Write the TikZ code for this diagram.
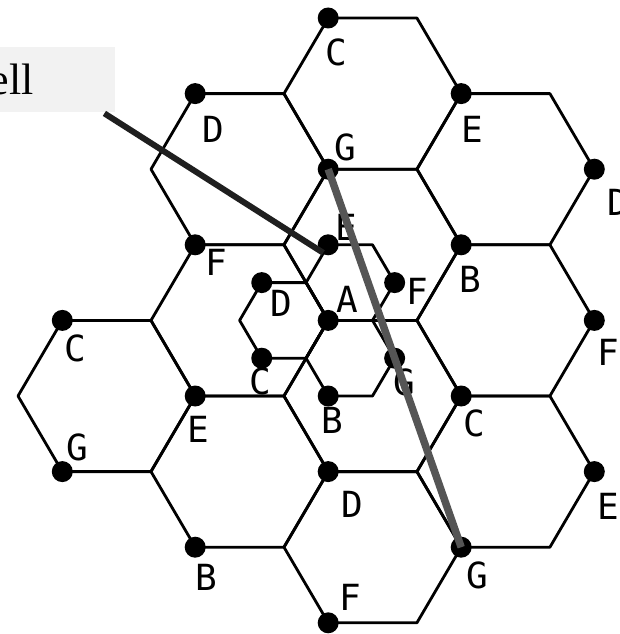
\documentclass[tikz,border=0pt]{standalone}
\usepackage{fontspec}
\setmainfont{Liberation Serif}
\newfontfamily\cellfont{DejaVu Sans Mono}
\usepackage{tikz}
\usetikzlibrary{positioning}
\definecolor{boxgray}{HTML}{F2F2F2}
\definecolor{pathgray}{HTML}{555555}

\begin{document}
\begin{tikzpicture}
		[x=1pt, y=-1pt, line width=2.8pt, line join=round,
		 site/.style={circle, fill, inner sep=0pt, minimum size=21pt},
		 tag/.style={inner sep=0pt, font=\cellfont\fontsize{36}{36}\selectfont}]
		\useasboundingbox (0,0) rectangle (620,634);
		% large cells
		\foreach \cx/\cy in {372.6/93.6, 239.6/169.2, 505.6/169.2, 372.6/244.8, 239.6/320.4, 505.6/320.4,
			106.6/396, 372.6/396, 239.6/471.6, 505.6/471.6, 372.6/547.2}
			\draw[shift={(\cx,\cy)}] (88.6,0) -- (44.3,75.6) -- (-44.3,75.6) -- (-88.6,0) -- (-44.3,-75.6) -- (44.3,-75.6) -- cycle;
		% split cells around A
		\foreach \cx/\cy in {283.9/320.4, 350.35/282.6, 350.35/358.2}
			\draw[shift={(\cx,\cy)}] (44.3,0) -- (22.15,37.8) -- (-22.15,37.8) -- (-44.3,0) -- (-22.15,-37.8) -- (22.15,-37.8) -- cycle;
		\node[site] (cTop) at (328.2,18) {};
		\node[site] (dUp) at (195.2,93.6) {};
		\node[site] (eUp) at (461.2,93.6) {};
		\node[site] (gTop) at (328.2,169.2) {};
		\node[site] (dRight) at (594.3,169.2) {};
		\node[site] (fMid) at (195.2,244.8) {};
		\node[site] (bMid) at (461.2,244.8) {};
		\node[site] (cLeft) at (62.3,320.4) {};
		\node[site] (fRight) at (594.3,320.4) {};
		\node[site] (eMid) at (195.2,396) {};
		\node[site] (cMid) at (461.2,396) {};
		\node[site] (gLeft) at (62.3,471.6) {};
		\node[site] (dLow) at (328.2,471.6) {};
		\node[site] (eRight) at (594.3,471.6) {};
		\node[site] (bLow) at (195.2,547.2) {};
		\node[site] (gLow) at (461.2,547.2) {};
		\node[site] (fLow) at (328.2,622.8) {};
		\node[site] (aS) at (328.2,320.4) {};
		\node[site] (eS) at (328.2,244.8) {};
		\node[site] (dS) at (261.75,282.6) {};
		\node[site] (fS) at (394.65,282.6) {};
		\node[site] (cS) at (261.75,358.2) {};
		\node[site] (gS) at (394.65,358.2) {};
		\node[site] (bS) at (328.2,396) {};
		\node[tag] at (336,52) {C};
		\node[tag] at (213,129) {D};
		\node[tag] at (472,129) {E};
		\node[tag] at (345,147) {G};
		\node[tag] at (618,202) {D};
		\node[tag] at (216,262) {F};
		\node[tag] at (470,279) {B};
		\node[tag] at (75,348) {C};
		\node[tag] at (608,352) {F};
		\node[tag] at (198,429) {E};
		\node[tag] at (474,423) {C};
		\node[tag] at (77,447) {G};
		\node[tag] at (352,504) {D};
		\node[tag] at (608,506) {E};
		\node[tag] at (206,577) {B};
		\node[tag] at (477,575) {G};
		\node[tag] at (350,597) {F};
		\node[tag] at (347,299) {A};
		\node[tag] at (346,227) {E};
		\node[tag] at (281,303) {D};
		\node[tag] at (417,291) {F};
		\node[tag] at (260,381) {C};
		\node[tag] at (404,382) {G};
		\node[tag] at (332,420) {B};
		\node[fill=boxgray, minimum width=235.4pt, minimum height=65pt, inner sep=0pt,
			font=\fontsize{44}{44}\selectfont] (cellbox) at (-2.7,79.5) {Cell};
		\coordinate (tail) at ([xshift=-12pt]cellbox.south east);
		\draw[line width=6pt, black!88] (tail) -- ([xshift=-5pt, yshift=-8pt]eS.center);
		\draw[line width=7.5pt, pathgray] (gTop.center) -- (gLow.center);
	\end{tikzpicture}
\end{document}
